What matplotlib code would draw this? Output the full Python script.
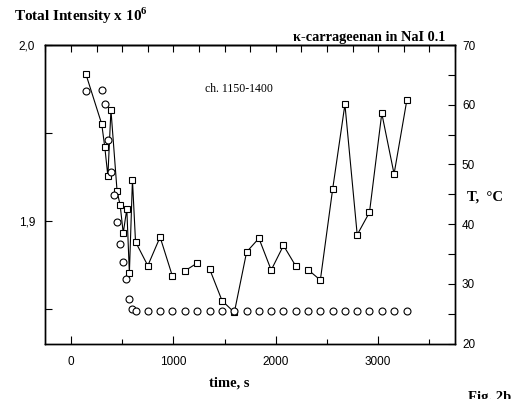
import matplotlib
matplotlib.use("Agg")
import matplotlib.pyplot as plt
from matplotlib.ticker import MultipleLocator, FixedLocator, FixedFormatter, NullFormatter

plt.rcParams['mathtext.fontset'] = 'custom'
plt.rcParams['mathtext.rm'] = 'Liberation Serif'
plt.rcParams['mathtext.bf'] = 'Liberation Serif:bold'

# Total scattered intensity (x 10^6), channels 1150-1400
time_I = [145, 300, 330, 360, 390, 450, 480, 510, 545, 570, 600, 630,
          750, 870, 990, 1110, 1230, 1355, 1475, 1595, 1715, 1835, 1955,
          2075, 2195, 2315, 2435, 2555, 2675, 2795, 2915, 3035, 3155, 3280]
intensity = [1.9835, 1.9550, 1.9418, 1.9254, 1.9630, 1.9167, 1.9088, 1.8930,
             1.9067, 1.8701, 1.9233, 1.8880, 1.8744, 1.8907, 1.8685, 1.8714,
             1.8758, 1.8723, 1.8545, 1.8478, 1.8822, 1.8900, 1.8719, 1.8859,
             1.8742, 1.8721, 1.8662, 1.9179, 1.9662, 1.8920, 1.9048, 1.9611,
             1.9266, 1.9687]
# the connecting line restarts at these times
line_breaks = [1110, 1355, 2315]

# Sample temperature
time_T = [145, 300, 330, 360, 390, 420, 450, 480, 510, 540, 570, 600, 630,
          750, 870, 990, 1110, 1230, 1355, 1475, 1595, 1715, 1835, 1955,
          2075, 2195, 2315, 2435, 2555, 2675, 2795, 2915, 3035, 3155, 3280]
temperature = [62.3, 62.4, 60.2, 54.1, 48.8, 44.9, 40.3, 36.7, 33.7, 30.8,
               27.5, 25.8, 25.5, 25.5, 25.5, 25.5, 25.5, 25.5, 25.5, 25.5,
               25.5, 25.5, 25.5, 25.5, 25.5, 25.5, 25.5, 25.5, 25.5, 25.5,
               25.5, 25.5, 25.5, 25.5, 25.5]

x_major = [0, 1000, 2000, 3000]
x_labels = ['0', '1000', '2000', '3000']
left_ticks = [1.9, 2.0]
left_labels = ['1,9', '2,0']

W, H = 523, 399
fig = plt.figure(figsize=(W / 100, H / 100), dpi=100)
ax = fig.add_axes([45 / W, 1 - 343.7 / H, 410 / W, (343.7 - 45) / H])
ax2 = ax.twinx()

tick_font = {'family': 'Liberation Sans', 'size': 8.5}
serif_bold = {'family': 'Liberation Serif', 'weight': 'bold'}

# intensity: squares joined by line segments
bounds = [0] + [time_I.index(t) for t in line_breaks] + [len(time_I)]
for a, b in zip(bounds[:-1], bounds[1:]):
    ax.plot(time_I[a:b], intensity[a:b], '-', color='black', lw=0.8, zorder=2)
ax.plot(time_I, intensity, 's', mfc='white', mec='black', ms=5, mew=0.8,
        zorder=3)

# temperature: open circles on the right axis
ax2.plot(time_T, temperature, 'o', mfc='white', mec='black', ms=5, mew=0.8)

ax.set_xlim(-254, 3750)
ax.set_ylim(1.83, 2.0)
ax2.set_ylim(20, 70)

ax.xaxis.set_major_locator(FixedLocator(x_major))
ax.xaxis.set_major_formatter(FixedFormatter(x_labels))
ax.xaxis.set_minor_locator(MultipleLocator(500))
ax.tick_params(axis='x', which='major', direction='in', length=6, width=0.8,
               pad=9)
ax.tick_params(axis='x', which='minor', direction='in', length=3.5, width=0.8)

ax.yaxis.set_major_locator(FixedLocator(left_ticks))
ax.yaxis.set_major_formatter(FixedFormatter(left_labels))
ax.yaxis.set_minor_locator(FixedLocator([1.85, 1.95]))
ax.tick_params(axis='y', which='both', direction='in', length=5, width=0.8,
               pad=7)

ax2.yaxis.set_major_locator(MultipleLocator(10))
ax2.yaxis.set_minor_locator(MultipleLocator(5))
ax2.tick_params(axis='y', which='both', direction='in', length=5, width=0.8,
                pad=5)

for lab in ax.get_xticklabels() + ax.get_yticklabels() + ax2.get_yticklabels():
    lab.set_fontfamily(tick_font['family'])
    lab.set_fontsize(tick_font['size'])

top = ax.secondary_xaxis('top')
top.xaxis.set_major_locator(MultipleLocator(250))
top.xaxis.set_major_formatter(NullFormatter())
top.tick_params(direction='in', length=5, width=0.8)

for a in (ax, ax2):
    for s in a.spines.values():
        s.set_linewidth(1.0)
top.spines['top'].set_linewidth(1.0)

fig.text(14 / W, 1 - 16 / H, 'Total Intensity x 10$^{\\mathbf{6}}$',
         fontsize=11, va='center', ha='left', **serif_bold)
fig.text(445 / W, 1 - 37 / H, '\u03ba-carrageenan in NaI 0.1',
         fontsize=10.3, va='center', ha='right', **serif_bold)
fig.text(205 / W, 1 - 89 / H, 'ch. 1150-1400', fontsize=8.5, va='center',
         ha='left', family='Liberation Serif')
fig.text(467 / W, 1 - 197 / H, 'T,  \u00b0C', fontsize=10.5, va='center',
         ha='left', **serif_bold)
fig.text(229 / W, 1 - 383 / H, 'time, s', fontsize=10.5, va='center',
         ha='center', **serif_bold)
fig.text(468 / W, 1 - 398 / H, 'Fig. 2b', fontsize=10.5, va='center',
         ha='left', **serif_bold)

fig.savefig('out.png', dpi=100)
